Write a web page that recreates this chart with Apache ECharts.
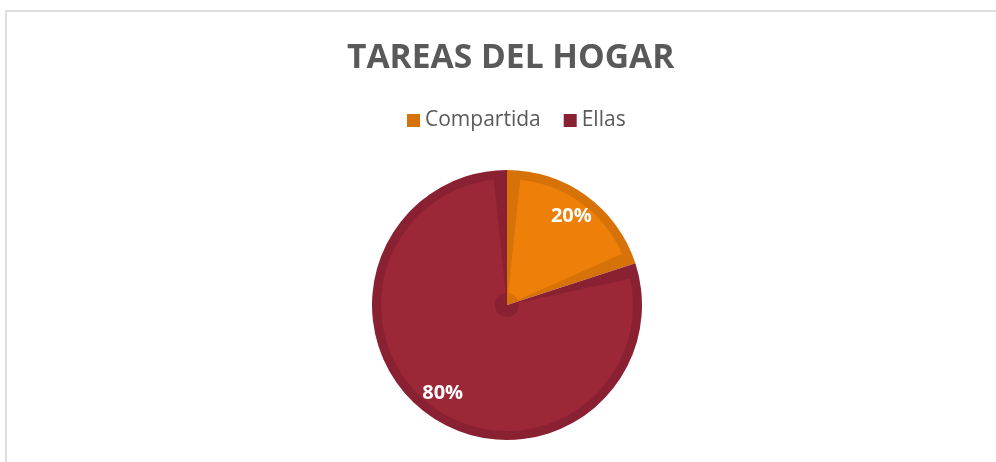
<!DOCTYPE html>
<html>
<head>
<meta charset="utf-8">
<script src="https://cdn.jsdelivr.net/npm/echarts@6/dist/echarts.min.js"></script>
<style>
	html, body { margin: 0; padding: 0; background: #fff; }
	#frame { position: absolute; left: 5px; top: 10px; width: 991px; height: 452px;
		border-left: 2px solid #dedede; border-top: 2px solid #dedede; box-sizing: border-box; }
	#chart { position: absolute; left: 0; top: 0; width: 996px; height: 462px; }
</style>
</head>
<body>
<div id="frame"></div>
<div id="chart"></div>
<script>
const titleText = 'TAREAS DEL HOGAR';
const categories = ['Compartida', 'Ellas'];
const values = [20, 80];
const fillColors = ['#ee7f08', '#9b2737'];
const edgeColors = ['#d77208', '#8a2133'];

function renderChart() {
	const chart = echarts.init(document.getElementById('chart'), null, { renderer: 'canvas' });
	const center = [507, 305];

	// dark full pie underneath, lighter inset pie on top gives the inner border look
	const backData = categories.map((name, i) => ({
		name, value: values[i], itemStyle: { color: edgeColors[i] }
	}));
	const frontData = categories.map((name, i) => ({
		name, value: values[i], itemStyle: { color: fillColors[i] }
	}));

	chart.setOption({
		animation: false,
		color: fillColors,
		title: {
			text: titleText,
			left: 342,
			top: 36,
			textStyle: { fontFamily: 'Open Sans', fontWeight: 'bold', fontSize: 33.6, color: '#595959' }
		},
		legend: {
			data: categories,
			top: 105,
			left: 402,
			icon: 'rect',
			itemWidth: 13,
			itemHeight: 13,
			itemGap: 23,
			textStyle: { fontFamily: 'Open Sans', fontSize: 21, color: '#595959' }
		},
		series: [
			{
				type: 'pie',
				center,
				radius: [0, 135],
				startAngle: 90,
				clockwise: true,
				silent: true,
				label: { show: false },
				labelLine: { show: false },
				data: backData
			},
			{
				type: 'pie',
				center,
				radius: [12, 126],
				startAngle: 90,
				clockwise: true,
				padAngle: 12,
				silent: true,
				label: { show: false },
				labelLine: { show: false },
				data: frontData
			},
			{
				// transparent ring only used to place the percent labels
				type: 'pie',
				center,
				radius: [78, 135],
				startAngle: 90,
				clockwise: true,
				silent: true,
				legendHoverLink: false,
				itemStyle: { color: 'transparent' },
				label: {
					show: true,
					position: 'inside',
					formatter: (p) => p.value + '%',
					fontFamily: 'Open Sans',
					fontWeight: 'bold',
					fontSize: 20,
					color: '#ffffff'
				},
				labelLine: { show: false },
				data: categories.map((name, i) => ({ name, value: values[i] }))
			}
		]
	});
}

document.addEventListener('DOMContentLoaded', renderChart);
</script>
</body>
</html>
